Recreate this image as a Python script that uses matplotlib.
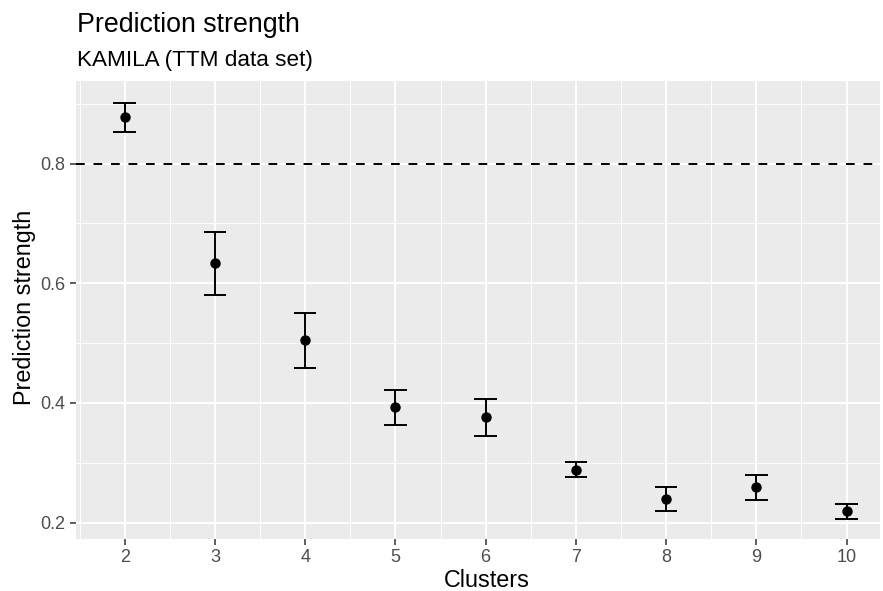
import matplotlib
matplotlib.use('Agg')
import matplotlib.pyplot as plt
import numpy as np

plt.rcParams['font.family'] = ['Liberation Sans', 'DejaVu Sans']

# 数据
clusters = [2, 3, 4, 5, 6, 7, 8, 9, 10]
ps_mean = [0.877, 0.633, 0.505, 0.393, 0.377, 0.288, 0.239, 0.259, 0.219]
ps_upper = [0.902, 0.685, 0.551, 0.422, 0.407, 0.302, 0.259, 0.280, 0.231]
ps_lower = [0.852, 0.580, 0.459, 0.363, 0.345, 0.276, 0.219, 0.238, 0.206]
threshold = 0.8

fig = plt.figure(figsize=(8.83, 5.91), dpi=100)
ax = fig.add_axes([0.0861, 0.0885, 0.9105, 0.7745])

ax.set_facecolor('#EBEBEB')
for s in ax.spines.values():
    s.set_visible(False)

ax.set_xlim(1.46, 10.37)
ax.set_ylim(0.173, 0.938)
ax.set_xticks(clusters)
ax.set_xticks(np.arange(1.5, 10.5, 1.0), minor=True)
ax.set_yticks([0.2, 0.4, 0.6, 0.8])
ax.set_yticks([0.3, 0.5, 0.7, 0.9], minor=True)
ax.set_yticklabels(['0.2', '0.4', '0.6', '0.8'])

ax.grid(True, which='major', color='white', linewidth=1.4)
ax.grid(True, which='minor', color='white', linewidth=0.7)
ax.set_axisbelow(True)
ax.tick_params(which='major', length=4, width=1.1, color='#333333',
               labelcolor='#4D4D4D', labelsize=13, pad=3.5)
ax.tick_params(which='minor', length=0)

# 阈值线
ax.axhline(threshold, color='black', linewidth=1.4, linestyle=(0, (4.5, 4.5)))

# 误差线
ax.vlines(clusters, ps_lower, ps_upper, color='black', linewidth=1.4)
w = 0.125
ax.hlines(ps_upper, np.array(clusters) - w, np.array(clusters) + w, color='black', linewidth=1.4)
ax.hlines(ps_lower, np.array(clusters) - w, np.array(clusters) + w, color='black', linewidth=1.4)
ax.plot(clusters, ps_mean, 'o', color='black', markersize=6.5)

ax.set_xlabel('Clusters', fontsize=16.8)
ax.set_ylabel('Prediction strength', fontsize=16.8)
ax.xaxis.set_label_coords(0.511, -0.066)
ax.yaxis.set_label_coords(-0.050, 0.505)

fig.text(0.0872, 0.9464, 'Prediction strength', fontsize=19.3, ha='left', va='baseline')
fig.text(0.0872, 0.888, 'KAMILA (TTM data set)', fontsize=16.2, ha='left', va='baseline')

plt.savefig('out.png', dpi=100, facecolor='white')
plt.close()
